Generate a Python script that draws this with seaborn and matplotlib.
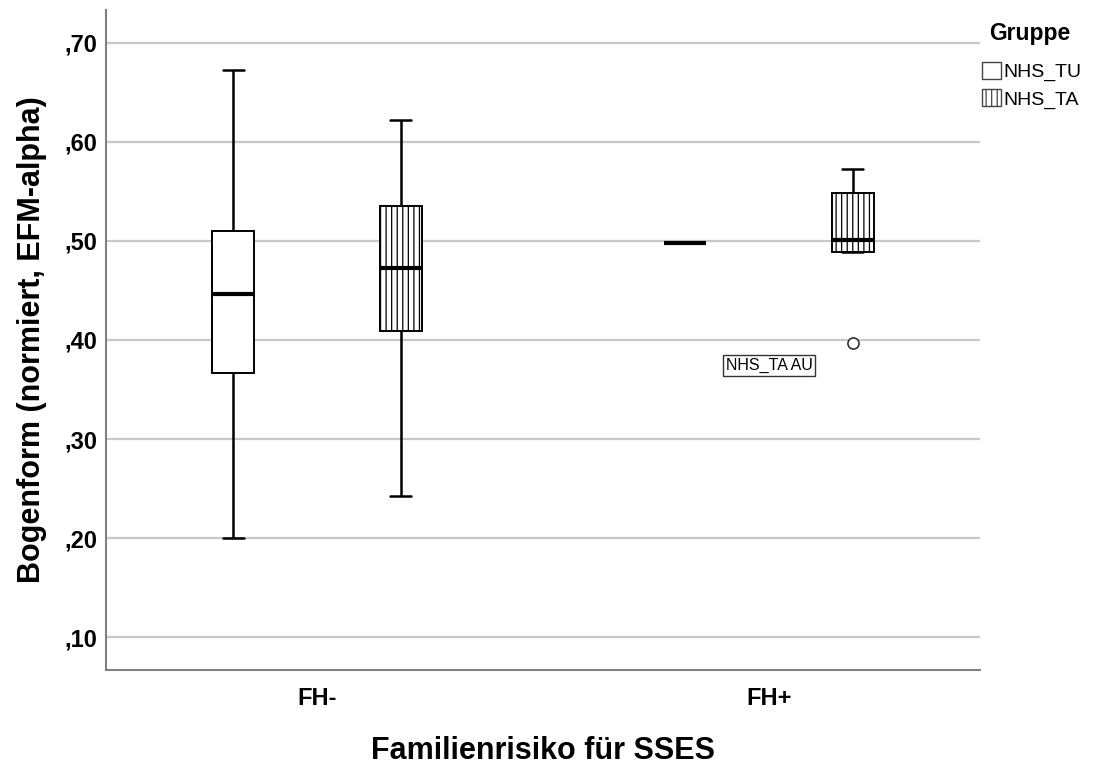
import numpy as np
import pandas as pd
import matplotlib
matplotlib.use("Agg")
import matplotlib.pyplot as plt
import seaborn as sns
from matplotlib.patches import Patch
from matplotlib.ticker import FuncFormatter

# ---- data ----
categories = ["FH-", "FH+"]
groups = ["NHS_TU", "NHS_TA"]
fh_minus_tu = [0.200, 0.367, 0.446, 0.510, 0.672]
fh_minus_ta = [0.243, 0.409, 0.473, 0.535, 0.622]
fh_plus_tu = [0.498]
fh_plus_ta = [0.397, 0.489, 0.501, 0.548, 0.573]
yticks = [0.10, 0.20, 0.30, 0.40, 0.50, 0.60, 0.70]
outlier_label = "NHS_TA AU"

rows = []
for cat, grp, vals in [("FH-", "NHS_TU", fh_minus_tu), ("FH-", "NHS_TA", fh_minus_ta),
                       ("FH+", "NHS_TU", fh_plus_tu), ("FH+", "NHS_TA", fh_plus_ta)]:
    for v in vals:
        rows.append({"Familienrisiko": cat, "Gruppe": grp, "Wert": v})
df = pd.DataFrame(rows)

sns.set_theme(style="white")
plt.rcParams["font.family"] = ["Liberation Sans", "DejaVu Sans"]
plt.rcParams["hatch.linewidth"] = 0.9
plt.rcParams["text.color"] = "black"
plt.rcParams["axes.labelcolor"] = "black"
plt.rcParams["xtick.color"] = "black"
plt.rcParams["ytick.color"] = "black"

fig = plt.figure(figsize=(10.93, 7.64), dpi=100)
ax = fig.add_axes([106 / 1093, 1 - 670 / 764, (980 - 106) / 1093, (670 - 10) / 764])

sns.boxplot(data=df, x="Familienrisiko", y="Wert", hue="Gruppe",
            order=categories, hue_order=groups, ax=ax,
            width=0.743, gap=0.75, whis=1.5, fill=True, legend=False,
            boxprops=dict(facecolor="white", edgecolor="black", linewidth=1.4),
            whiskerprops=dict(color="black", linewidth=1.8),
            capprops=dict(color="black", linewidth=1.8),
            medianprops=dict(color="black", linewidth=3.0),
            flierprops=dict(marker="o", markersize=8, markerfacecolor="white",
                            markeredgecolor="#333333", markeredgewidth=1.2))

# hatch the NHS_TA boxes (right of each category centre)
for p in ax.patches:
    ext = p.get_extents()
    xc = ax.transData.inverted().transform(((ext.x0 + ext.x1) / 2, 0))[0]
    if xc - round(xc) > 0:
        p.set_hatch("|||")
        p.set_edgecolor("black")

ax.set_xlim(-0.467, 1.467)
ax.set_ylim(0.067, 0.733)
ax.set_yticks(yticks)
ax.yaxis.set_major_formatter(FuncFormatter(lambda v, p: f"{v:.2f}".replace("0.", ",")))
ax.grid(axis="y", color="#c8c8c8", linewidth=1.6)
ax.set_axisbelow(True)
for s in ["top", "right"]:
    ax.spines[s].set_visible(False)
for s in ["left", "bottom"]:
    ax.spines[s].set_color("#808080")
    ax.spines[s].set_linewidth(1.5)
ax.tick_params(axis="both", length=0, colors="black")
ax.tick_params(axis="y", pad=6, labelsize=17)
ax.tick_params(axis="x", pad=12, labelsize=17)
for t in ax.get_xticklabels() + ax.get_yticklabels():
    t.set_fontweight("bold")
    t.set_color("black")

ax.set_xlabel("Familienrisiko für SSES", fontsize=22, fontweight="bold", labelpad=19, color="black")
ax.set_ylabel("Bogenform (normiert, EFM-alpha)", fontsize=22, fontweight="bold", labelpad=13, color="black")

# outlier case label
ax.text(1.0, 0.374, outlier_label, ha="center", va="center", fontsize=11.5,
        bbox=dict(boxstyle="square,pad=0.18", facecolor="white", edgecolor="#333333", linewidth=1))

handles = [Patch(facecolor="white", edgecolor="#444444", label="NHS_TU"),
           Patch(facecolor="white", edgecolor="#444444", hatch="|||", label="NHS_TA")]
leg = fig.legend(handles=handles, title="Gruppe", loc="upper left",
                 bbox_to_anchor=(982 / 1093, 1 - 22 / 764), frameon=False,
                 fontsize=14, handlelength=1.0, handleheight=1.0, handletextpad=0.1,
                 labelspacing=0.4, alignment="left", borderaxespad=0, borderpad=0)
leg.get_title().set_fontweight("bold")
leg.get_title().set_fontsize(16.5)
leg.get_title().set_position((7, 0))
leg._legend_box.sep = 12

fig.savefig("out.png", dpi=100)
